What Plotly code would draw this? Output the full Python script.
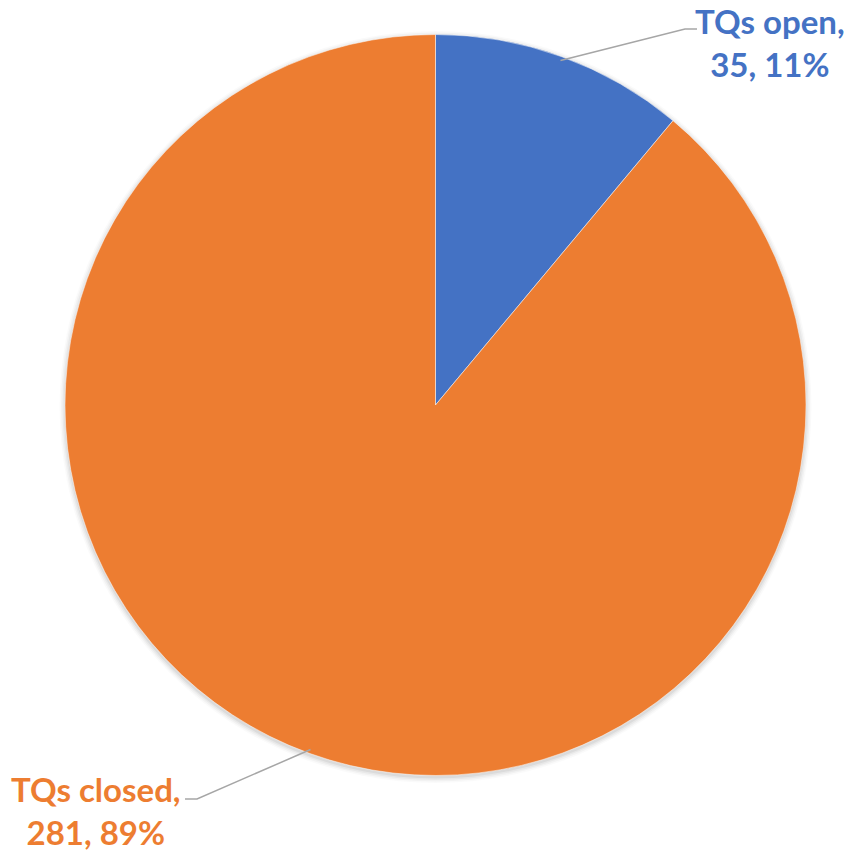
import math
import plotly.graph_objects as go

labels = ["TQs open", "TQs closed"]
values = [35, 281]
colors = ["#4472C4", "#ED7D31"]

W, H = 853, 852
CX, CY, R = 435.5, 405.0, 370.5


def px(x):
    return x / W


def py(y):
    return 1 - y / H


total = sum(values)
pcts = [round(v / total * 100) for v in values]

fig = go.Figure()
fig.add_trace(go.Pie(
    labels=labels, values=values, sort=False, direction="clockwise", rotation=0,
    marker=dict(colors=colors, line=dict(color="white", width=0.5)),
    textinfo="none", textposition="none", hoverinfo="label+value+percent",
    showlegend=False,
    domain=dict(x=[px(CX - R), px(CX + R)], y=[py(CY + R), py(CY - R)]),
))

shapes = []
# soft shadow
for i, a in enumerate([0.05, 0.04, 0.03, 0.02]):
    rr = R + 1 + i * 1.5
    shapes.append(dict(type="circle", xref="paper", yref="paper", layer="below",
                       x0=px(CX - rr), x1=px(CX + rr), y0=py(CY + 2 + rr), y1=py(CY + 2 - rr),
                       line=dict(width=0), fillcolor=f"rgba(0,0,0,{a})"))

# leader lines from slice midpoints
label_ends = [((685, 29), (697, 29)), ((197, 799), (185, 799))]
ann_pos = [(770, 42), (96, 810)]
annotations = []
cum = 0
for i, v in enumerate(values):
    mid = (cum + v / 2) / total * 2 * math.pi
    cum += v
    sx = CX + (R - 4) * math.sin(mid)
    sy = CY - (R - 4) * math.cos(mid)
    (ex, ey), (fx, fy) = label_ends[i]
    shapes.append(dict(type="path", xref="paper", yref="paper",
                       path=f"M {px(sx)} {py(sy)} L {px(ex)} {py(ey)} L {px(fx)} {py(fy)}",
                       line=dict(color="#A6A6A6", width=1.5)))
    ax, ay = ann_pos[i]
    annotations.append(dict(
        x=px(ax), y=py(ay), xref="paper", yref="paper", showarrow=False,
        xanchor="center", yanchor="middle", align="center",
        text=f"<b>{labels[i]},<br>{values[i]}, {pcts[i]}%</b>",
        font=dict(family="Lato", size=33, color=colors[i]),
    ))

fig.update_layout(
    width=W, height=H, margin=dict(l=0, r=0, t=0, b=0),
    paper_bgcolor="white", plot_bgcolor="white",
    shapes=shapes, annotations=annotations,
)

fig.write_html("out.html", config={"displayModeBar": False},
               post_script="document.body.style.margin='0';document.body.style.overflow='hidden';")
